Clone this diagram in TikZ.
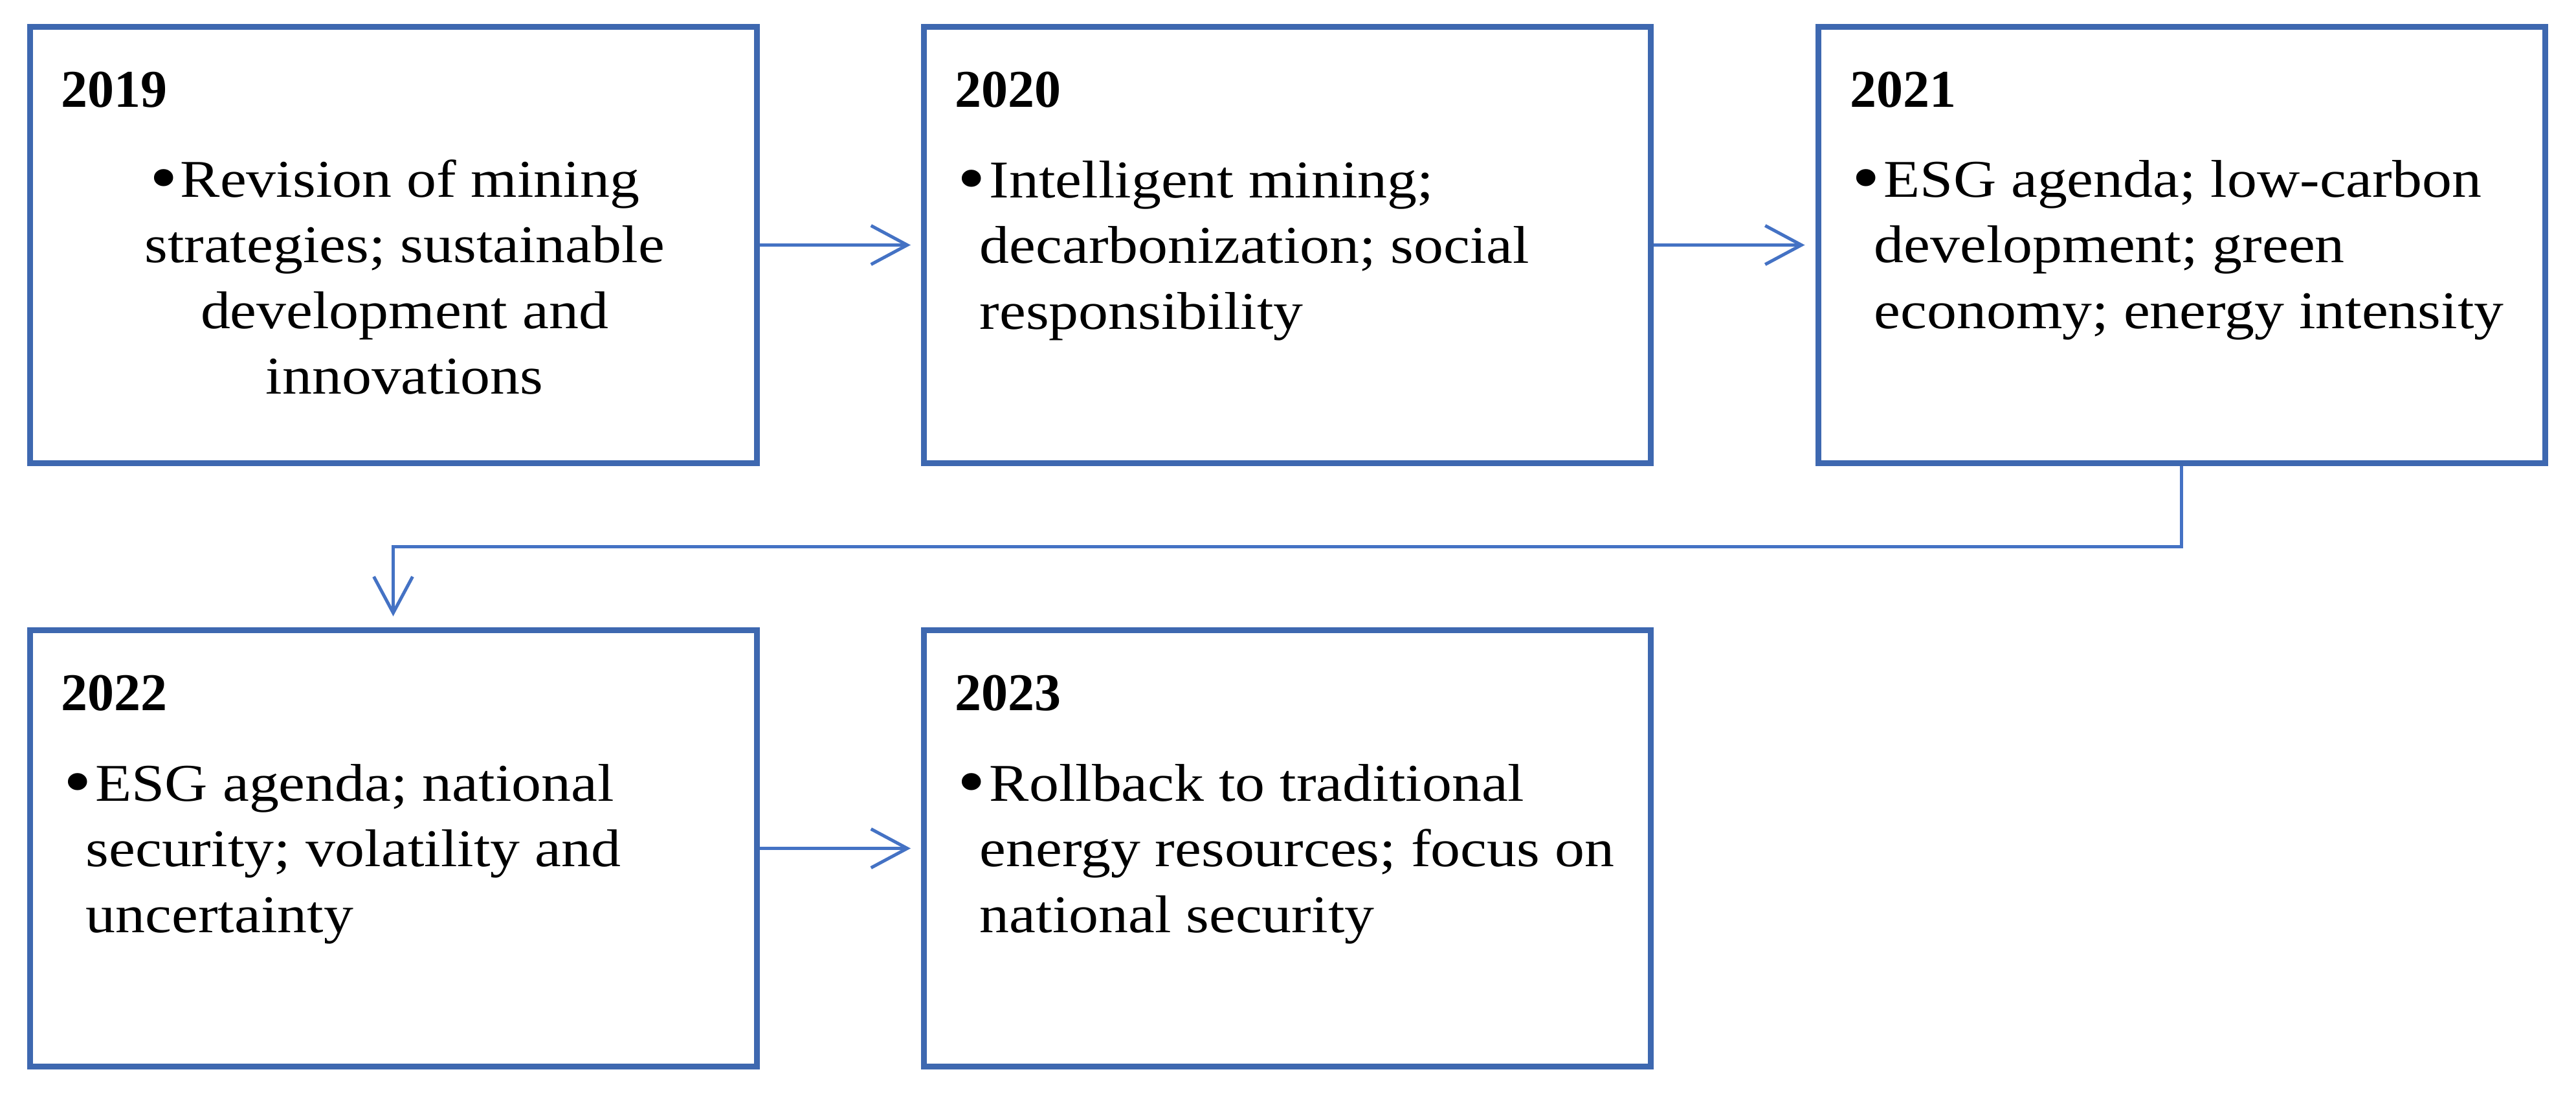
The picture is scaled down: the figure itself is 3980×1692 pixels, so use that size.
\documentclass[tikz,border=0pt]{standalone}
\usepackage{fontspec}
\usepackage{graphicx}
\setmainfont{Liberation Serif}[FakeStretch=1.12]
\newfontfamily\headfont{Liberation Serif}[FakeStretch=1.0]
\usetikzlibrary{arrows.meta}
\definecolor{bord}{RGB}{62,104,176}
\definecolor{conn}{RGB}{68,114,196}
\newcommand{\bodyfont}{\fontsize{20.5pt}{25.375pt}\selectfont}
\newcommand{\bigbul}{\hspace*{-1.5pt}\raisebox{-1.8pt}{\scalebox{1.35}{\textbullet}}}
\newcommand{\bul}{\hspace*{-7pt}\makebox[10.75pt][l]{\bigbul}}
\begin{document}
\begin{tikzpicture}[x=0.25pt,y=-0.25pt,
  yearbox/.style={draw=bord,line width=2.25pt,minimum width=280.75pt,minimum height=168.5pt,inner sep=0pt},
  yeartext/.style={anchor=base west,inner sep=0pt,font=\headfont\bfseries\fontsize{20.5pt}{24pt}\selectfont},
  itemtext/.style={anchor=base west,inner sep=0pt},
  link/.style={draw=conn,line width=1.25pt,-{Straight Barb[length=14pt,width=15pt]}}]
\useasboundingbox (0,0) rectangle (3980,1692);
% boxes
\node[yearbox] (b1) at (607.5,378.5) {};
\node[yearbox] (b2) at (1989,378.5) {};
\node[yearbox] (b3) at (3370.5,378.5) {};
\node[yearbox] (b4) at (607.5,1310.5) {};
\node[yearbox] (b5) at (1989,1310.5) {};
% headings
\node[yeartext] (y1) at (94,165) {2019};
\node[yeartext] (y2) at (1475,165) {2020};
\node[yeartext] (y3) at (2858,165) {2021};
\node[yeartext] (y4) at (94,1097) {2022};
\node[yeartext] (y5) at (1475,1097) {2023};
% texts
\node[itemtext,anchor=base] (t1) at (625,304) {\parbox[t]{270pt}{\bodyfont\centering
  \makebox[10.25pt][l]{\bigbul}Revision of mining\kern6pt\\strategies; sustainable\\development and\\innovations}};
\node[itemtext] (t2) at (1513,305) {\parbox[t]{300pt}{\bodyfont\raggedright
  \bul Intelligent mining;\\decarbonization; social\\responsibility}};
\node[itemtext] (t3) at (2895,304) {\parbox[t]{300pt}{\bodyfont\raggedright
  \bul ESG agenda; low-carbon\\development; green\\economy; energy intensity}};
\node[itemtext] (t4) at (132,1237) {\parbox[t]{300pt}{\bodyfont\raggedright
  \bul ESG agenda; national\\security; volatility and\\uncertainty}};
\node[itemtext] (t5) at (1513,1237) {\parbox[t]{300pt}{\bodyfont\raggedright
  \bul Rollback to traditional\\energy resources; focus on\\national security}};
% connectors
\draw[link,shorten >=4pt] (b1.east) -- (b2.west);
\draw[link,shorten >=4pt] (b2.east) -- (b3.west);
\draw[link,shorten >=4.25pt] (b3.south) -- ++(0,124.5) -| (b4.north);
\draw[link,shorten >=4pt] (b4.east) -- (b5.west);
\end{tikzpicture}
\end{document}
